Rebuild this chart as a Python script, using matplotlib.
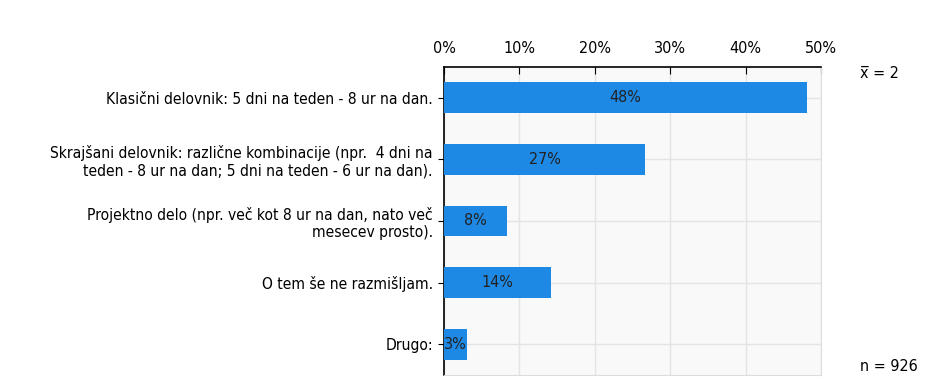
import matplotlib.pyplot as plt

categories = [
    "Klasični delovnik: 5 dni na teden - 8 ur na dan.",
    "Skrajšani delovnik: različne kombinacije (npr.  4 dni na\nteden - 8 ur na dan; 5 dni na teden - 6 ur na dan).",
    "Projektno delo (npr. več kot 8 ur na dan, nato več\nmesecev prosto).",
    "O tem še ne razmišljam.",
    "Drugo:",
]
values = [48.1, 26.7, 8.4, 14.2, 3.0]
ticks = [0, 10, 20, 30, 40, 50]
mean_text = "x\u0305 = 2"
n_text = "n = 926"

plt.rcParams['font.family'] = ['DejaVu Sans']
plt.rcParams['font.stretch'] = 'condensed'
fig = plt.figure(figsize=(9.4, 3.85), dpi=100)
ax = fig.add_axes([0.4723, 0.026, 0.401, 0.800])

pos = list(range(len(categories)))
ax.barh(pos, values, height=0.5, color="#1e88e5", zorder=3)
for p, v in zip(pos, values):
    ax.text(v / 2, p, f"{round(v)}%", ha="center", va="center", fontsize=11.5, color="#222222", zorder=4)

ax.set_ylim(4.5, -0.5)
ax.set_xlim(0, 50)
ax.set_yticks(pos)
ax.set_yticklabels(categories, fontsize=11.2, linespacing=1.2)
ax.set_xticks(ticks)
ax.set_xticklabels([f"{t}%" for t in ticks], fontsize=11.5)
ax.xaxis.tick_top()
ax.tick_params(axis="x", direction="in", length=5, pad=8, color="black")
ax.tick_params(axis="y", length=4, pad=4)

ax.set_facecolor("#f9f9f9")
ax.grid(True, color="#e4e4e4", linewidth=1, zorder=0)
ax.spines["bottom"].set_color("#dddddd")
ax.spines["right"].set_color("#dddddd")
ax.spines["top"].set_linewidth(1.2)
ax.spines["left"].set_linewidth(1.2)

fig.text(0.915, 0.81, mean_text, fontsize=11.5, ha="left", va="center")
fig.text(0.915, 0.048, n_text, fontsize=11.5, ha="left", va="center")

plt.savefig("out.png", dpi=100)
